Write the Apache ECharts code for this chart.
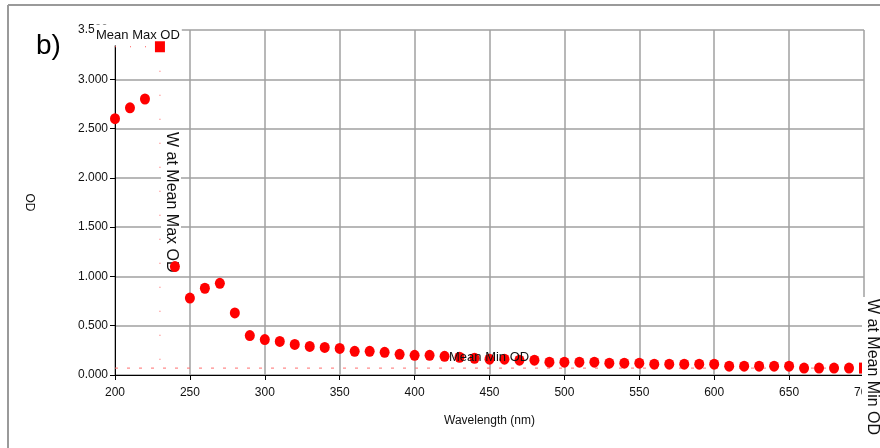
<!DOCTYPE html>
<html>
<head>
<meta charset="utf-8">
<title>OD spectrum</title>
<script src="https://cdn.jsdelivr.net/npm/echarts@6/dist/echarts.min.js"></script>
<style>
  html, body { margin: 0; padding: 0; background: #fff; }
  #chart { width: 880px; height: 448px; }
</style>
</head>
<body>
<div id="chart"></div>
<script>
// wavelengths (nm) and measured OD for the round markers
const wavelengths = [200, 210, 220, 240, 250, 260, 270, 280, 290, 300,
  310, 320, 330, 340, 350, 360, 370, 380, 390, 400,
  410, 420, 430, 440, 450, 460, 470, 480, 490, 500,
  510, 520, 530, 540, 550, 560, 570, 580, 590, 600,
  610, 620, 630, 640, 650, 660, 670, 680, 690]
const odValues = [2.60, 2.71, 2.80, 1.10, 0.78, 0.88, 0.93, 0.63, 0.40, 0.36,
  0.34, 0.31, 0.29, 0.28, 0.27, 0.24, 0.24, 0.23, 0.21, 0.20,
  0.20, 0.19, 0.18, 0.17, 0.16, 0.16, 0.15, 0.15, 0.13, 0.13,
  0.13, 0.13, 0.12, 0.12, 0.12, 0.11, 0.11, 0.11, 0.11, 0.11,
  0.09, 0.09, 0.09, 0.09, 0.09, 0.07, 0.07, 0.07, 0.07]

// square markers: max and min points
const wAtMeanMax = 230
const meanMaxOD = 3.33
const wAtMeanMin = 700
const meanMinOD = 0.07

const xTicks = [200, 250, 300, 350, 400, 450, 500, 550, 600, 650, 700]
const yTicks = [0, 0.5, 1.0, 1.5, 2.0, 2.5, 3.0, 3.5]

const chart = echarts.init(document.getElementById('chart'))

const font = 'Liberation Sans, Arial, sans-serif'
const gridColor = '#a0a0a0'

let option = {
  animation: false,
  backgroundColor: '#fff',
  grid: { left: 115, right: 16, top: 30, bottom: 73 },
  xAxis: {
    type: 'value',
    min: xTicks[0],
    max: xTicks[xTicks.length - 1],
    interval: 50,
    name: 'Wavelength (nm)',
    nameLocation: 'middle',
    nameGap: 40,
    nameTextStyle: { color: '#111', fontSize: 12, fontFamily: font },
    axisLine: { lineStyle: { color: '#000', width: 1 } },
    axisTick: { show: true, length: 5, lineStyle: { color: '#000' } },
    axisLabel: { color: '#111', fontSize: 12, fontFamily: font, margin: 12 },
    splitLine: { show: true, lineStyle: { color: gridColor, width: 1.5 } }
  },
  yAxis: {
    type: 'value',
    min: yTicks[0],
    max: yTicks[yTicks.length - 1],
    interval: 0.5,
    name: 'OD',
    nameLocation: 'middle',
    nameRotate: -90,
    nameGap: 80,
    nameTextStyle: { color: '#111', fontSize: 12, fontFamily: font },
    axisLine: { show: true, lineStyle: { color: '#000', width: 1 } },
    axisTick: { show: true, length: 5, lineStyle: { color: '#000' } },
    axisLabel: {
      color: '#111', fontSize: 12, fontFamily: font, margin: 7,
      formatter: v => v.toFixed(3)
    },
    splitLine: { show: true, lineStyle: { color: gridColor, width: 1.5 } }
  },
  series: [
    {
      name: 'Mean Min line',
      type: 'line',
      symbol: 'none',
      silent: true,
      lineStyle: { color: '#ff6e6e', width: 1, type: [3, 9] },
      data: [[xTicks[0], meanMinOD], [wAtMeanMin, meanMinOD]],
      z: 1
    },
    {
      name: 'Mean Max line',
      type: 'line',
      symbol: 'none',
      silent: true,
      lineStyle: { color: '#ff5a5a', width: 1, type: [1, 14] },
      data: [[xTicks[0], meanMaxOD], [wAtMeanMax, meanMaxOD]],
      z: 1
    },
    {
      name: 'W at Mean Max line',
      type: 'line',
      symbol: 'none',
      silent: true,
      lineStyle: { color: '#ff5a5a', width: 1, type: [1, 23] },
      data: [[wAtMeanMax, meanMaxOD], [wAtMeanMax, 0]],
      z: 1
    },
    {
      name: 'OD',
      type: 'scatter',
      symbol: 'circle',
      symbolSize: [10, 11],
      itemStyle: { color: '#ff0000', opacity: 1 },
      data: wavelengths.map((w, i) => [w, odValues[i]]),
      z: 70
    },
    {
      name: 'Extremes',
      type: 'scatter',
      symbol: 'rect',
      symbolSize: [10, 11],
      itemStyle: { color: '#ff0000', opacity: 1 },
      data: [[wAtMeanMax, meanMaxOD], [wAtMeanMin, meanMinOD]],
      z: 70
    }
  ],
  graphic: [
    // outer frame (top and left edges)
    { type: 'line', z: 50, shape: { x1: 8, y1: 5, x2: 880, y2: 5 },
      style: { stroke: '#9a9a9a', lineWidth: 2 } },
    { type: 'line', z: 50, shape: { x1: 8, y1: 5, x2: 8, y2: 448 },
      style: { stroke: '#9a9a9a', lineWidth: 2 } },
    { type: 'text', z: 60, x: 36, y: 46,
      style: { text: 'b)', font: '28px ' + font, fill: '#000', verticalAlign: 'middle' } },
    { type: 'text', z: 60, x: 95, y: 35,
      style: { text: 'Mean Max OD', font: '13px ' + font, fill: '#111',
        verticalAlign: 'middle', backgroundColor: '#fff', padding: [4, 2, 4, 1] } },
    { type: 'text', z: 80, x: 449, y: 357,
      style: { text: 'Mean Min OD', font: '13px ' + font, fill: '#111', verticalAlign: 'middle' } },
    { type: 'text', z: 60, x: 171, y: 130, rotation: -Math.PI / 2,
      style: { text: 'W at Mean Max OD', font: '16px ' + font, fill: '#111',
        align: 'left', verticalAlign: 'middle', backgroundColor: '#fff', padding: [2, 2] } },
    { type: 'text', z: 80, x: 872, y: 297, rotation: -Math.PI / 2,
      style: { text: 'W at Mean Min OD', font: '16px ' + font, fill: '#111',
        align: 'left', verticalAlign: 'middle', backgroundColor: '#fff', padding: [2, 2] } }
  ]
}

chart.setOption(option)
</script>
</body>
</html>
